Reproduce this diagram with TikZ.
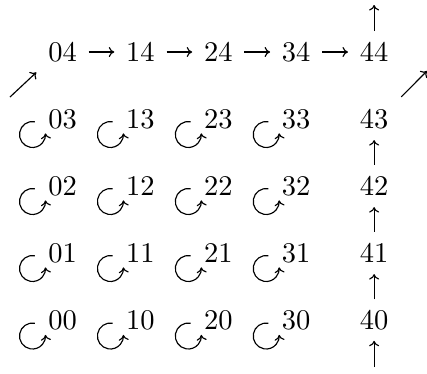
\documentclass[tikz,border=0pt]{standalone}
\usetikzlibrary{arrows.meta}
\begin{document}
\begin{tikzpicture}[x=1pt,y=1pt,
  lab/.style={inner sep=0pt,text height=6.45pt,text depth=0pt,scale=2.85,font=\fontsize{10}{12}\selectfont},
  arr/.style={line width=1.15pt,-{Computer Modern Rightarrow[length=5.5pt,width=10pt]}},
  gap/.style={shorten <=11.3pt,shorten >=11.3pt}]
\useasboundingbox (0,0) rectangle (427,-373);
% grid labels
\foreach \i/\x in {0/62.5,1/140.4,2/218.3,3/296.2,4/374.1}{
  \foreach \j/\y in {0/320.5,1/253,2/186,3/119,4/52}{
    \node[lab] (n\i\j) at (\x,-\y) {\i\j};
  }
}
% top row arrows
\draw[arr,gap] (n04) -- (n14);
\draw[arr,gap] (n14) -- (n24);
\draw[arr,gap] (n24) -- (n34);
\draw[arr,gap] (n34) -- (n44);
% right column arrows
\draw[arr,gap] (n40) -- (n41);
\draw[arr,gap] (n41) -- (n42);
\draw[arr,gap] (n42) -- (n43);
\coordinate (ut) at (374.1,-5);
\draw[arr,shorten <=11pt] (n44) -- (ut);
\coordinate (db) at (374.1,-367);
\draw[arr,shorten >=10.5pt] (db) -- (n40);
% diagonals
\coordinate (dl) at (10,-97);
\draw[arr,shorten >=15.5pt] (dl) -- (n04.south west);
\coordinate (dr) at (427,-71);
\draw[arr,shorten <=17.5pt] (n43.north east) -- (dr);
% loops
\foreach \i in {0,1,2,3}{
  \foreach \j in {0,1,2,3}{
    \path (n\i\j.center) ++(-30,-15.5) coordinate (c\i\j);
    \draw[arr] ([shift={(80:13)}]c\i\j) arc[start angle=80,end angle=365,radius=13];
  }
}
\end{tikzpicture}
\end{document}
